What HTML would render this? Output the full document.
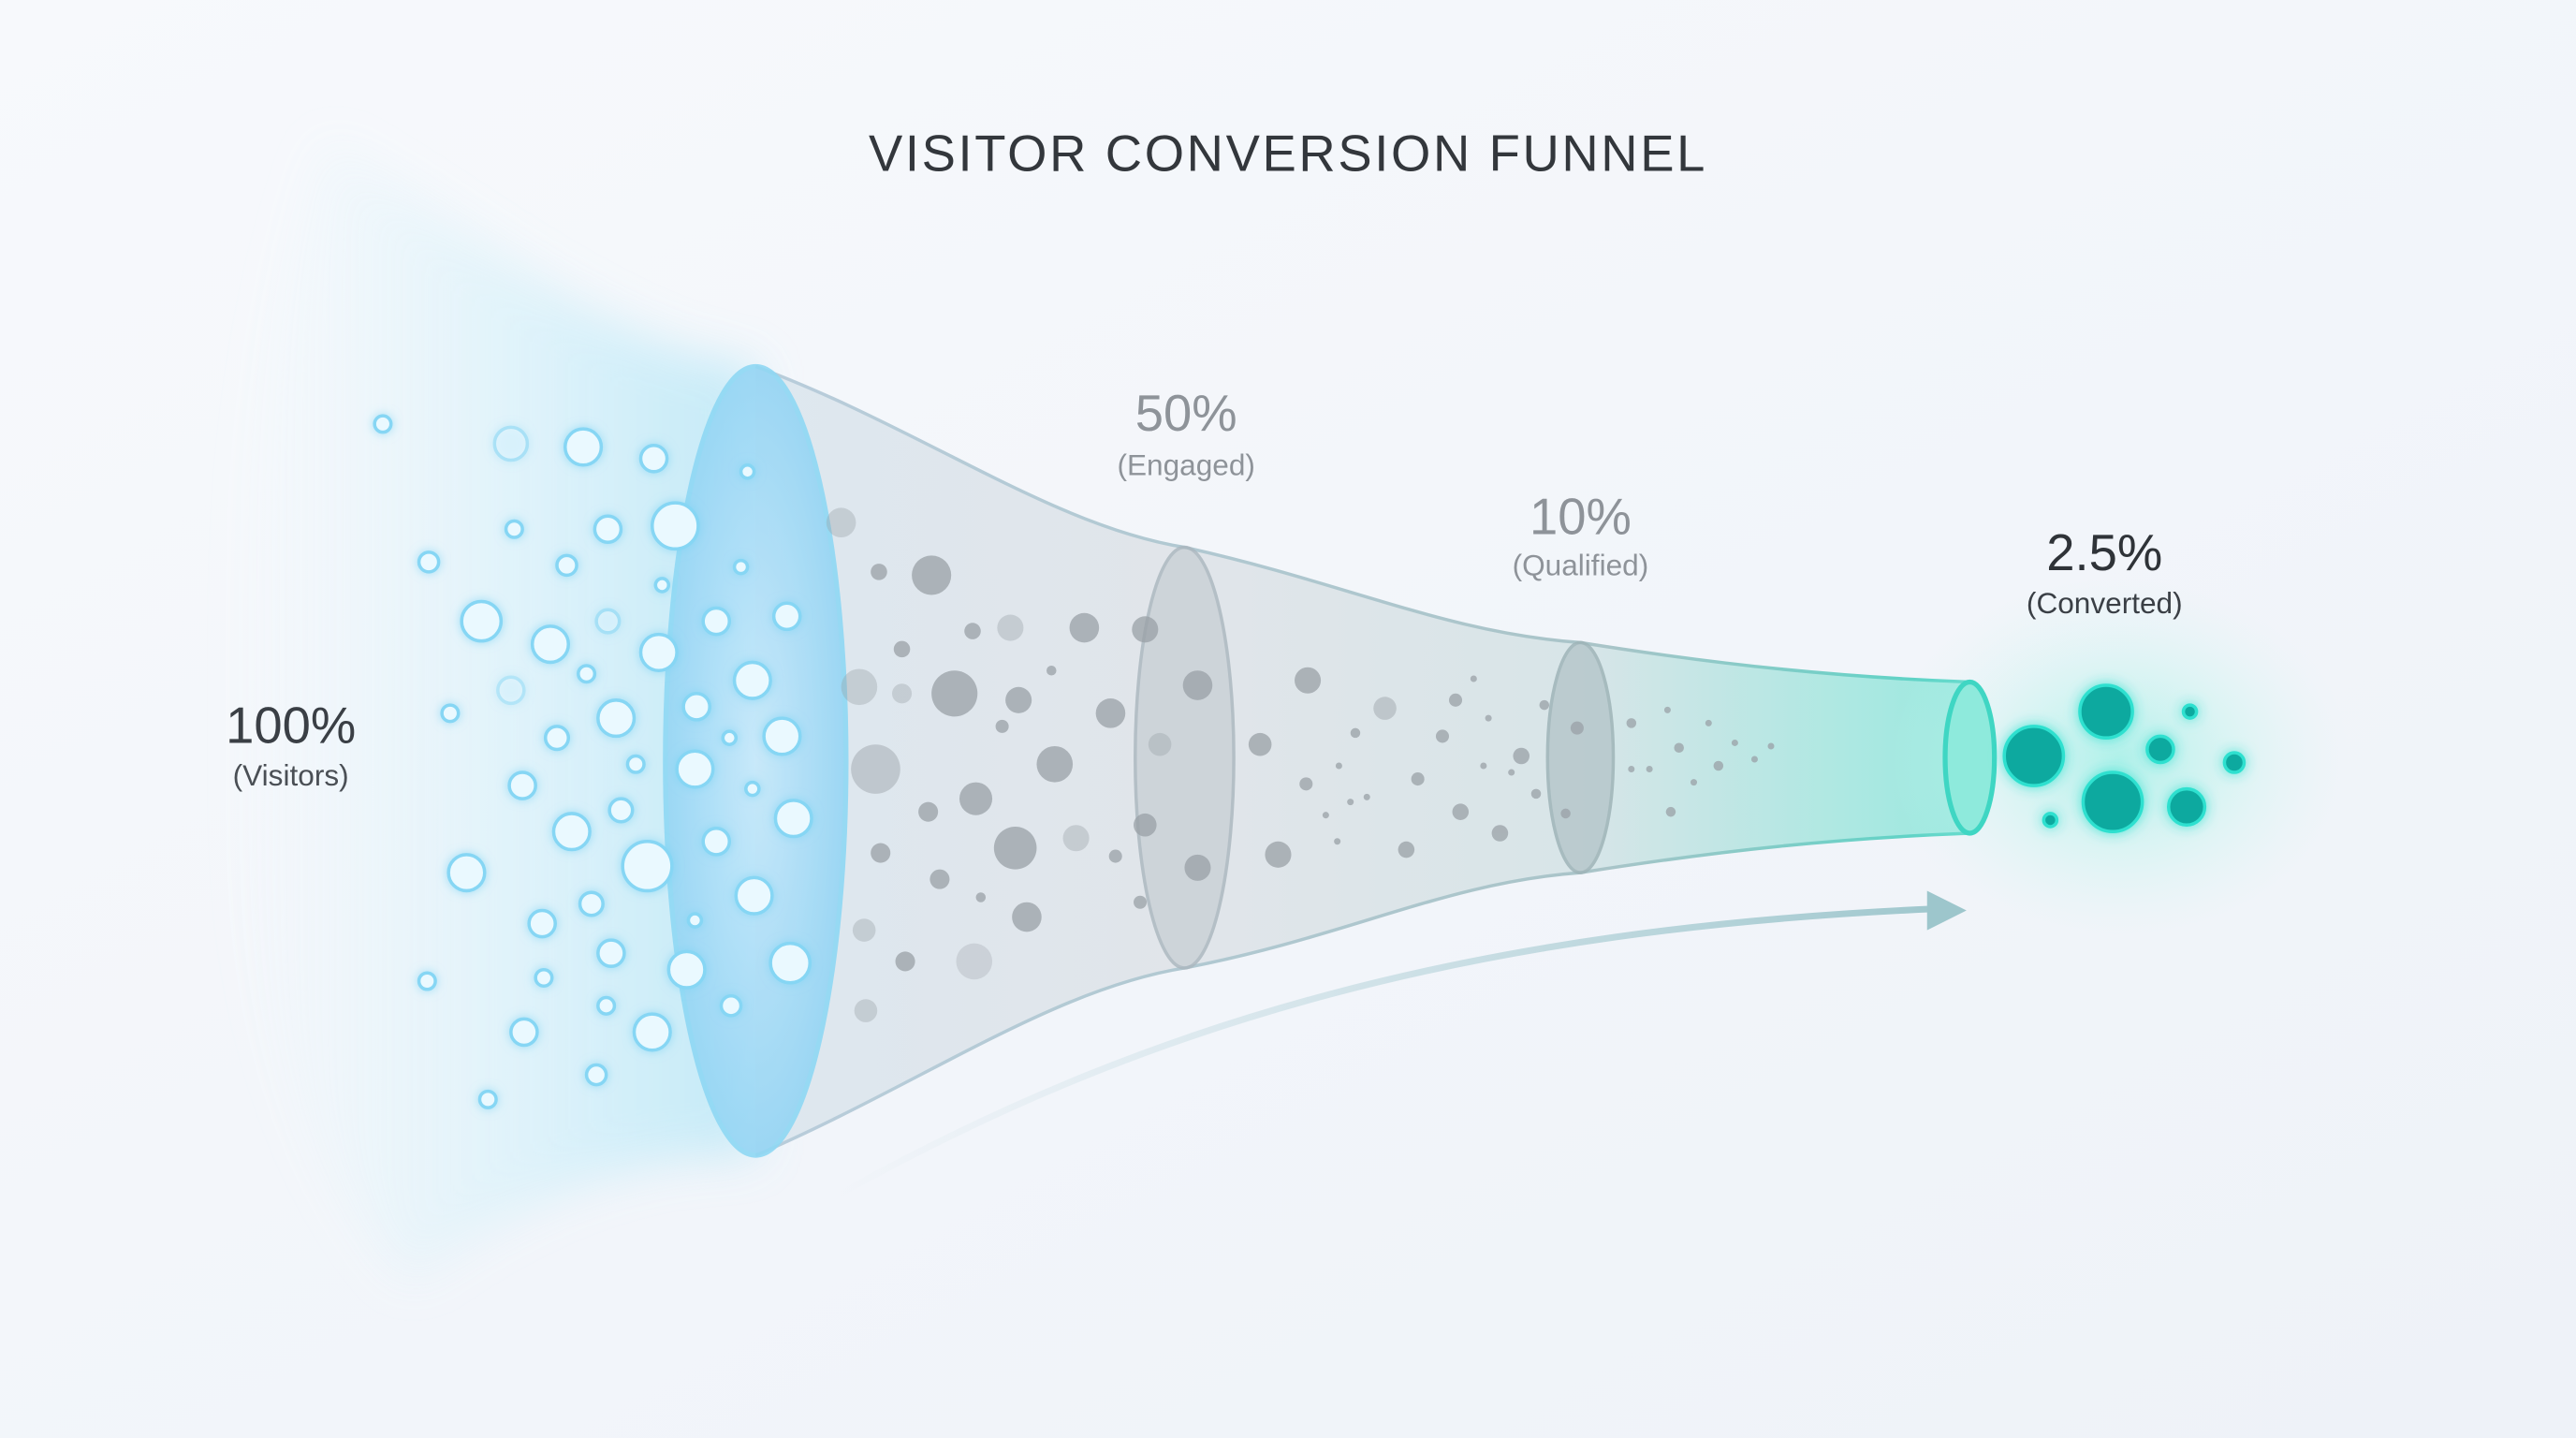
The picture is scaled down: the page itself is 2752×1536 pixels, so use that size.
<!DOCTYPE html>
<html><head><meta charset="utf-8"><style>
html,body{margin:0;padding:0;background:#f3f6fa;}
svg{display:block;}
text{font-family:"Liberation Sans",sans-serif;}
</style></head><body>
<svg width="2752" height="1536" viewBox="0 0 1568 875" preserveAspectRatio="none" xmlns="http://www.w3.org/2000/svg">
<defs>
<linearGradient id="bg" x1="0" y1="0" x2="1" y2="1">
<stop offset="0" stop-color="#f7f9fc"/><stop offset="1" stop-color="#eef2f8"/></linearGradient>
<linearGradient id="wide" x1="0" y1="0" x2="1" y2="0">
<stop offset="0" stop-color="#eef8fc" stop-opacity="0"/><stop offset="0.35" stop-color="#e2f4fb" stop-opacity="0.7"/><stop offset="0.75" stop-color="#cdeef9"/><stop offset="1" stop-color="#bde8f7"/></linearGradient>
<linearGradient id="fun" x1="460" y1="0" x2="1200" y2="0" gradientUnits="userSpaceOnUse">
<stop offset="0" stop-color="#dbe6ee"/><stop offset="0.35" stop-color="#dfe3e8"/><stop offset="0.68" stop-color="#d5e3e6"/><stop offset="1" stop-color="#8fe8dc"/></linearGradient>
<linearGradient id="edge" x1="460" y1="0" x2="1200" y2="0" gradientUnits="userSpaceOnUse">
<stop offset="0" stop-color="#b9cddb"/><stop offset="0.7" stop-color="#a9c4c8"/><stop offset="1" stop-color="#52d6c6"/></linearGradient>
<radialGradient id="e1" cx="0.5" cy="0.5" r="0.5"><stop offset="0" stop-color="#c6e9fb"/><stop offset="1" stop-color="#95d5f4"/></radialGradient>
<radialGradient id="glow" cx="0.5" cy="0.5" r="0.5"><stop offset="0" stop-color="#9ff0e6" stop-opacity="0.8"/><stop offset="1" stop-color="#d8f6f2" stop-opacity="0"/></radialGradient>
<linearGradient id="arr" x1="510" y1="0" x2="1195" y2="0" gradientUnits="userSpaceOnUse">
<stop offset="0" stop-color="#b8d3dc" stop-opacity="0"/><stop offset="1" stop-color="#9dc6cc"/></linearGradient>
<filter id="blur" x="-50%" y="-50%" width="200%" height="200%"><feGaussianBlur stdDeviation="14"/></filter>
<filter id="bglow" x="-100%" y="-100%" width="300%" height="300%"><feGaussianBlur in="SourceAlpha" stdDeviation="3" result="b"/><feFlood flood-color="#7fd3f3" flood-opacity="0.7"/><feComposite in2="b" operator="in" result="g"/><feMerge><feMergeNode in="g"/><feMergeNode in="SourceGraphic"/></feMerge></filter>
<filter id="tglow" x="-100%" y="-100%" width="300%" height="300%"><feGaussianBlur in="SourceAlpha" stdDeviation="4" result="b"/><feFlood flood-color="#2de0cf" flood-opacity="0.8"/><feComposite in2="b" operator="in" result="g"/><feMerge><feMergeNode in="g"/><feMergeNode in="SourceGraphic"/></feMerge></filter>
</defs>
<rect width="1568" height="875" fill="url(#bg)"/>
<!-- wide intake -->
<path d="M200,85 C300,150 380,215 460,223 L460,703 C380,700 310,735 250,780 C170,700 140,560 140,440 C140,300 165,170 200,85 Z" fill="url(#wide)" filter="url(#blur)" opacity="0.85"/>
<!-- funnel body -->
<path d="M460,223 C560,260 640,320 721,333 C820,355 880,385 962,391 C1050,405 1120,412 1199,415 L1199,507 C1120,510 1050,517 962,531 C880,537 820,570 721,589 C640,602 560,660 460,703 Z" fill="url(#fun)" opacity="0.9"/>
<path d="M460,223 C560,260 640,320 721,333 C820,355 880,385 962,391 C1050,405 1120,412 1199,415" fill="none" stroke="url(#edge)" stroke-width="2"/>
<path d="M460,703 C560,660 640,602 721,589 C820,570 880,537 962,531 C1050,517 1120,510 1199,507" fill="none" stroke="url(#edge)" stroke-width="2"/>
<ellipse cx="1290" cy="462" rx="140" ry="110" fill="url(#glow)"/>
<!-- ellipses -->
<ellipse cx="460" cy="463" rx="55" ry="240" fill="url(#e1)" stroke="#8fd8f4" stroke-width="3" opacity="0.9"/>
<ellipse cx="721" cy="461" rx="30" ry="128" fill="#c9d0d6" stroke="#aab6be" stroke-width="2" opacity="0.8"/>
<ellipse cx="962" cy="461" rx="20" ry="70" fill="#b6c7cb" stroke="#9fb4b8" stroke-width="2" opacity="0.85"/>
<ellipse cx="1199" cy="461" rx="15" ry="46" fill="#8eeadc" stroke="#3fd6c3" stroke-width="3"/>
<!-- blue bubbles -->
<g fill="#eaf9ff" stroke="#86d6f4" stroke-width="2" filter="url(#bglow)">
<circle cx="233" cy="258" r="5"/><circle cx="311" cy="270" r="10" opacity="0.5"/><circle cx="355" cy="272" r="11"/><circle cx="398" cy="279" r="8"/><circle cx="455" cy="287" r="4"/>
<circle cx="313" cy="322" r="5"/><circle cx="370" cy="322" r="8"/><circle cx="411" cy="320" r="14"/><circle cx="261" cy="342" r="6"/><circle cx="345" cy="344" r="6"/>
<circle cx="403" cy="356" r="4"/><circle cx="451" cy="345" r="4"/><circle cx="293" cy="378" r="12"/><circle cx="335" cy="392" r="11"/><circle cx="370" cy="378" r="7" opacity="0.5"/>
<circle cx="401" cy="397" r="11"/><circle cx="436" cy="378" r="8"/><circle cx="479" cy="375" r="8"/><circle cx="357" cy="410" r="5"/><circle cx="458" cy="414" r="11"/>
<circle cx="274" cy="434" r="5"/><circle cx="311" cy="420" r="8" opacity="0.4"/><circle cx="375" cy="437" r="11"/><circle cx="424" cy="430" r="8"/><circle cx="476" cy="448" r="11"/>
<circle cx="339" cy="449" r="7"/><circle cx="444" cy="449" r="4"/><circle cx="387" cy="465" r="5"/><circle cx="423" cy="468" r="11"/><circle cx="318" cy="478" r="8"/>
<circle cx="458" cy="480" r="4"/><circle cx="348" cy="506" r="11"/><circle cx="378" cy="493" r="7"/><circle cx="394" cy="527" r="15"/><circle cx="436" cy="512" r="8"/>
<circle cx="483" cy="498" r="11"/><circle cx="284" cy="531" r="11"/><circle cx="360" cy="550" r="7"/><circle cx="459" cy="545" r="11"/><circle cx="330" cy="562" r="8"/>
<circle cx="423" cy="560" r="4"/><circle cx="372" cy="580" r="8"/><circle cx="418" cy="590" r="11"/><circle cx="481" cy="586" r="12"/><circle cx="260" cy="597" r="5"/>
<circle cx="331" cy="595" r="5"/><circle cx="369" cy="612" r="5"/><circle cx="445" cy="612" r="6"/><circle cx="319" cy="628" r="8"/><circle cx="397" cy="628" r="11"/>
<circle cx="363" cy="654" r="6"/><circle cx="297" cy="669" r="5"/>
</g>
<!-- grey particles -->
<g fill="#9aa1a7" opacity="0.75">
<circle cx="512" cy="318" r="9" opacity="0.5"/><circle cx="567" cy="350" r="12"/><circle cx="535" cy="348" r="5"/><circle cx="592" cy="384" r="5"/><circle cx="615" cy="382" r="8" opacity="0.5"/>
<circle cx="660" cy="382" r="9"/><circle cx="697" cy="383" r="8"/><circle cx="549" cy="395" r="5"/><circle cx="581" cy="422" r="14"/><circle cx="620" cy="426" r="8"/>
<circle cx="640" cy="408" r="3"/><circle cx="676" cy="434" r="9"/><circle cx="523" cy="418" r="11" opacity="0.5"/><circle cx="549" cy="422" r="6" opacity="0.5"/><circle cx="729" cy="417" r="9"/>
<circle cx="533" cy="468" r="15" opacity="0.6"/><circle cx="610" cy="442" r="4"/><circle cx="642" cy="465" r="11"/><circle cx="594" cy="486" r="10"/><circle cx="565" cy="494" r="6"/>
<circle cx="618" cy="516" r="13"/><circle cx="655" cy="510" r="8" opacity="0.5"/><circle cx="536" cy="519" r="6"/><circle cx="572" cy="535" r="6"/><circle cx="597" cy="546" r="3"/>
<circle cx="625" cy="558" r="9"/><circle cx="679" cy="521" r="4"/><circle cx="697" cy="502" r="7"/><circle cx="729" cy="528" r="8"/><circle cx="694" cy="549" r="4"/>
<circle cx="526" cy="566" r="7" opacity="0.5"/><circle cx="551" cy="585" r="6"/><circle cx="593" cy="585" r="11" opacity="0.4"/><circle cx="527" cy="615" r="7" opacity="0.5"/><circle cx="706" cy="453" r="7" opacity="0.5"/>
<circle cx="796" cy="414" r="8"/><circle cx="767" cy="453" r="7"/><circle cx="843" cy="431" r="7" opacity="0.6"/><circle cx="825" cy="446" r="3"/><circle cx="795" cy="477" r="4"/>
<circle cx="778" cy="520" r="8"/><circle cx="856" cy="517" r="5"/><circle cx="863" cy="474" r="4"/><circle cx="878" cy="448" r="4"/><circle cx="886" cy="426" r="4"/>
<circle cx="889" cy="494" r="5"/><circle cx="913" cy="507" r="5"/><circle cx="926" cy="460" r="5"/><circle cx="940" cy="429" r="3"/><circle cx="960" cy="443" r="4"/>
<circle cx="807" cy="496" r="2"/><circle cx="815" cy="466" r="2"/><circle cx="822" cy="488" r="2"/><circle cx="832" cy="485" r="2"/><circle cx="814" cy="512" r="2"/>
<circle cx="897" cy="413" r="2"/><circle cx="906" cy="437" r="2"/><circle cx="903" cy="466" r="2"/><circle cx="920" cy="470" r="2"/><circle cx="935" cy="483" r="3"/>
<circle cx="993" cy="440" r="3"/><circle cx="1004" cy="468" r="2"/><circle cx="1015" cy="432" r="2"/><circle cx="1022" cy="455" r="3"/><circle cx="1031" cy="476" r="2"/>
<circle cx="1040" cy="440" r="2"/><circle cx="1046" cy="466" r="3"/><circle cx="1056" cy="452" r="2"/><circle cx="1068" cy="462" r="2"/><circle cx="1078" cy="454" r="2"/>
<circle cx="1017" cy="494" r="3"/><circle cx="993" cy="468" r="2"/><circle cx="953" cy="495" r="3"/>
</g>
<!-- teal bubbles -->
<g fill="#0fae a3" stroke="#2de0cf" stroke-width="2" filter="url(#tglow)">
<circle cx="1238" cy="460" r="18" fill="#0ea99f"/><circle cx="1282" cy="433" r="16" fill="#0ea99f"/><circle cx="1286" cy="488" r="18" fill="#0ea99f"/><circle cx="1315" cy="456" r="8" fill="#0ea99f"/><circle cx="1331" cy="491" r="11" fill="#0ea99f"/>
<circle cx="1333" cy="433" r="4" fill="#0ea99f"/><circle cx="1360" cy="464" r="6" fill="#0ea99f"/><circle cx="1248" cy="499" r="4" fill="#0ea99f"/>
</g>
<!-- arrow -->
<path d="M505,730 C700,620 900,565 1178,553" fill="none" stroke="url(#arr)" stroke-width="4"/>
<path d="M1173,542 L1197,554 L1173,566 Z" fill="#9dc6cc"/>
<!-- text -->
<text x="784" y="104" text-anchor="middle" font-size="31" fill="#33373c" letter-spacing="1.5">VISITOR CONVERSION FUNNEL</text>
<text x="177" y="452" text-anchor="middle" font-size="31" fill="#3a3f45">100%</text>
<text x="177" y="478" text-anchor="middle" font-size="18" fill="#4a4f55">(Visitors)</text>
<text x="722" y="262" text-anchor="middle" font-size="31" fill="#8e9399">50%</text>
<text x="722" y="289" text-anchor="middle" font-size="18" fill="#8e9399">(Engaged)</text>
<text x="962" y="325" text-anchor="middle" font-size="31" fill="#8e9399">10%</text>
<text x="962" y="350" text-anchor="middle" font-size="18" fill="#8e9399">(Qualified)</text>
<text x="1281" y="347" text-anchor="middle" font-size="31" fill="#2f3338">2.5%</text>
<text x="1281" y="373" text-anchor="middle" font-size="18" fill="#3a3f45">(Converted)</text>
</svg>
</body></html>
